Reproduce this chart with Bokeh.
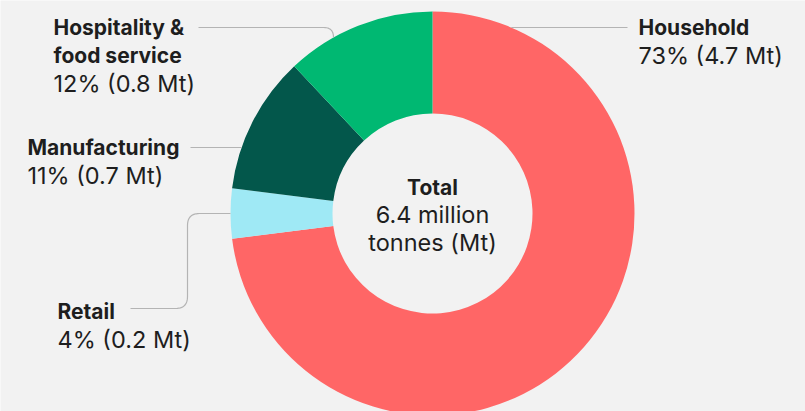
import numpy as np
from bokeh.plotting import figure
from bokeh.models import Range1d, ColumnDataSource
from bokeh.core.properties import value
from bokeh.embed import file_html
from bokeh.resources import INLINE

# ---------------- data ----------------
categories = ["Household", "Retail", "Manufacturing", "Hospitality &\nfood service"]
share_pct = [73, 4, 11, 12]
tonnes_mt = [4.7, 0.2, 0.7, 0.8]
colors = ["#FF6666", "#9FE9F5", "#03574B", "#00B872"]

# ---------------- layout (reference pixels, y measured downward) ----------------
PAGE_W, PAGE_H = 805, 411
CX, CY = 432, 213
R_OUT, R_IN = 202, 100
BG = "#F2F2F2"
INK = "#1E1E1E"
LEADER = "#B4B4B4"
FONT = "Inter"
FS_BOLD = "21px"
FS_REG = "23.5px"
LINE_H = 28
TEXT_SHIFT = 9.5  # renderer places alphabetic baseline lower; compensate


def edge_x(y, side):
    dx = np.sqrt(R_OUT ** 2 - (CY - y) ** 2)
    return CX + dx if side == "right" else CX - dx


def edge_y(x, side):
    dy = np.sqrt(R_OUT ** 2 - (CX - x) ** 2)
    return CY - dy if side == "top" else CY + dy


# label anchor (left x, first baseline) and leader corner points
label_layout = [
    dict(x=638, y=36, leader=[(edge_x(27, "right"), 27), (627, 27)], r=0),
    dict(x=57, y=320, leader=[(130, 308), (187, 308), (187, 213), (edge_x(213, "left"), 213)], r=12),
    dict(x=27, y=156, leader=[(190, 147), (edge_x(147, "left"), 147)], r=0),
    dict(x=53, y=36, leader=[(198, 27), (333, 27), (333, edge_y(333, "top"))], r=10),
]
center_baselines = [196, 223.5, 251]


def rounded_path(pts, r):
    pts = [np.array(p, dtype=float) for p in pts]
    out = [pts[0]]
    for i in range(1, len(pts) - 1):
        a, b, c = pts[i - 1], pts[i], pts[i + 1]
        if r <= 0:
            out.append(b)
            continue
        d1 = (b - a) / np.linalg.norm(b - a)
        d2 = (c - b) / np.linalg.norm(c - b)
        rr = min(r, np.linalg.norm(b - a) * 0.99, np.linalg.norm(c - b) * 0.99)
        p0 = b - d1 * rr
        p2 = b + d2 * rr
        for t in np.linspace(0, 1, 14):
            out.append((1 - t) ** 2 * p0 + 2 * (1 - t) * t * b + t ** 2 * p2)
    out.append(pts[-1])
    xs = [p[0] for p in out]
    ys = [PAGE_H - p[1] for p in out]
    return xs, ys


def ty(y_ref):
    return PAGE_H - (y_ref - TEXT_SHIFT)


# ---------------- figure ----------------
p = figure(width=PAGE_W, height=PAGE_H, output_backend="svg", toolbar_location=None,
           x_range=Range1d(0, PAGE_W), y_range=Range1d(0, PAGE_H), min_border=0)
p.axis.visible = False
p.grid.visible = False
p.outline_line_color = None
p.background_fill_color = BG
p.border_fill_color = BG

# wedges: clockwise from 12 o'clock
total_share = float(sum(share_pct))
cum = np.cumsum([0] + list(share_pct)) / total_share
starts = [np.pi / 2 - 2 * np.pi * cum[i + 1] for i in range(len(share_pct))]
ends = [np.pi / 2 - 2 * np.pi * cum[i] for i in range(len(share_pct))]
src = ColumnDataSource(dict(x=[CX] * len(share_pct), y=[PAGE_H - CY] * len(share_pct),
                            start=starts, end=ends, color=colors))
p.annular_wedge(x="x", y="y", inner_radius=R_IN, outer_radius=R_OUT,
                start_angle="start", end_angle="end", direction="anticlock",
                fill_color="color", line_color=None, source=src)

# leader lines
for lay in label_layout:
    xs, ys = rounded_path(lay["leader"], lay["r"])
    p.line(xs, ys, line_color=LEADER, line_width=1.2)

# labels
bx, by, bt, rx, ry, rt = [], [], [], [], [], []
for i, lay in enumerate(label_layout):
    lines = categories[i].split("\n")
    for k, ln in enumerate(lines):
        bx.append(lay["x"]); by.append(ty(lay["y"] + k * LINE_H)); bt.append(ln)
    rx.append(lay["x"]); ry.append(ty(lay["y"] + len(lines) * LINE_H))
    rt.append(f"{share_pct[i]}% ({tonnes_mt[i]} Mt)")

p.text(x=bx, y=by, text=bt, text_font=value(FONT), text_font_size=value(FS_BOLD),
       text_font_style="bold", text_color=INK, text_baseline="alphabetic", text_align="left")
p.text(x=rx, y=ry, text=rt, text_font=value(FONT), text_font_size=value(FS_REG),
       text_color=INK, text_baseline="alphabetic", text_align="left")

# centre total
total_mt = sum(tonnes_mt)
p.text(x=[CX], y=[ty(center_baselines[0])], text=["Total"], text_font=value(FONT),
       text_font_size=value(FS_BOLD), text_font_style="bold", text_color=INK,
       text_baseline="alphabetic", text_align="center")
p.text(x=[CX, CX], y=[ty(center_baselines[1]), ty(center_baselines[2])],
       text=[f"{total_mt:.1f} million", "tonnes (Mt)"], text_font=value(FONT),
       text_font_size=value(FS_REG), text_color=INK, text_baseline="alphabetic", text_align="center")

html = file_html(p, INLINE)
html = html.replace("<body>", f'<body style="background:{BG};">', 1)
open("out.html", "w").write(html)
